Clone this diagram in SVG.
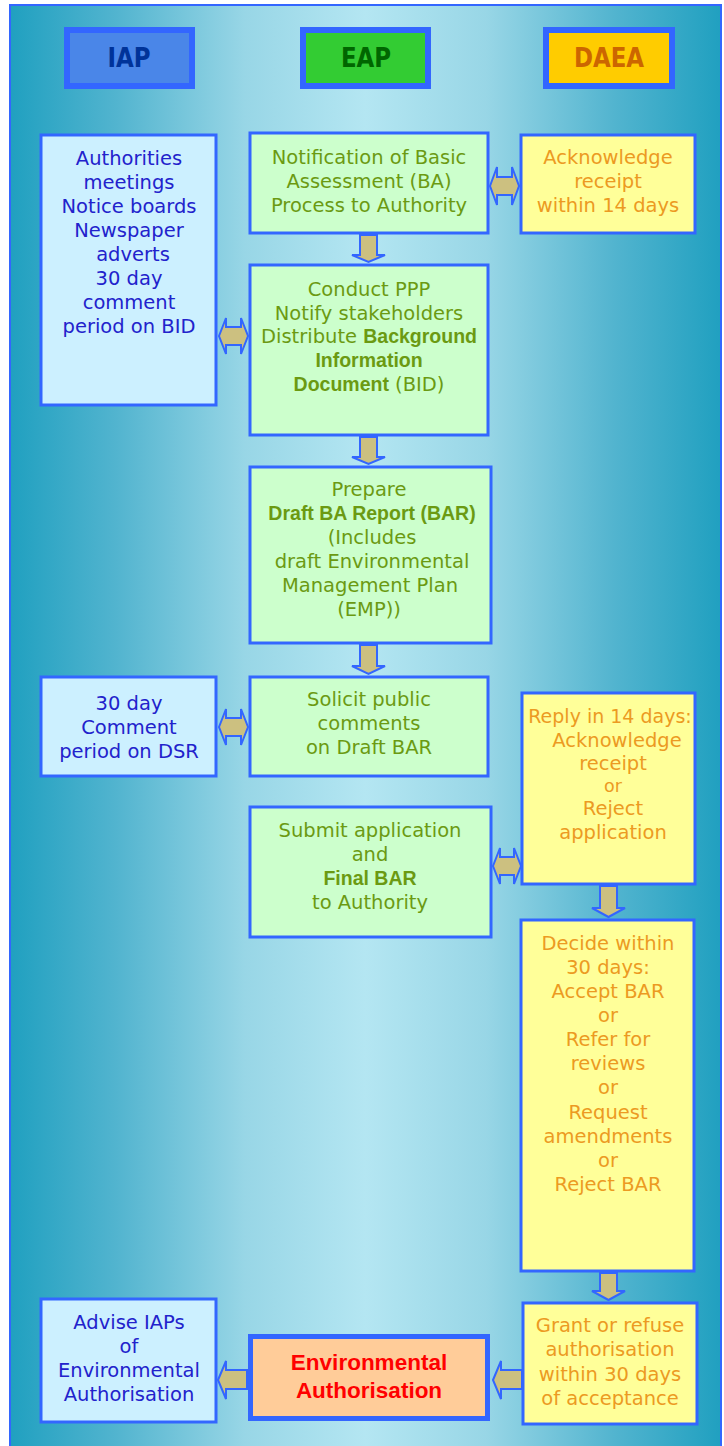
<svg xmlns="http://www.w3.org/2000/svg" width="724" height="1446" viewBox="0 0 724 1446">
<defs>
<linearGradient id="bg" x1="0" y1="0" x2="1" y2="0">
<stop offset="0" stop-color="#20a0c0"/>
<stop offset="0.15" stop-color="#52b4cf"/>
<stop offset="0.33" stop-color="#98d6e6"/>
<stop offset="0.5" stop-color="#b4e6f2"/>
<stop offset="0.67" stop-color="#98d6e6"/>
<stop offset="0.85" stop-color="#52b4cf"/>
<stop offset="1" stop-color="#20a0c0"/>
</linearGradient>
<style>
.box{stroke:#3366ff;stroke-width:3}
.iap{fill:#ccf0ff}
.eap{fill:#ccffcc}
.daea{fill:#ffff99}
.hdr{stroke:#3366ff;stroke-width:6}
.ht{font-family:"DejaVu Sans","Liberation Sans",sans-serif;font-weight:bold;font-size:27px;text-anchor:middle}
.t{font-family:"DejaVu Sans","Liberation Sans",sans-serif;font-size:19.5px;text-anchor:middle}
.ti{fill:#2222cc}
.te{fill:#6b9a12}
.td{fill:#ec9a22}
.b{font-weight:bold;font-family:"Liberation Sans",Arial,sans-serif}
.arr{fill:#ccc080;stroke:#3366ff;stroke-width:2}
</style>
</defs>
<rect x="10" y="5" width="711" height="1445" fill="url(#bg)" stroke="#3366ff" stroke-width="2"/>

<g id="hdr-iap"><rect class="hdr" x="67" y="30" width="125" height="56" fill="#4a86e8"/><text class="ht" transform="translate(129,67) scale(0.85,1)" fill="#003399">IAP</text></g>
<g id="hdr-eap"><rect class="hdr" x="303" y="30" width="125" height="56" fill="#33cc33"/><text class="ht" transform="translate(366,67) scale(0.85,1)" fill="#006600">EAP</text></g>
<g id="hdr-daea"><rect class="hdr" x="546" y="30" width="126" height="56" fill="#ffcc00"/><text class="ht" transform="translate(609,67) scale(0.85,1)" fill="#cc6600">DAEA</text></g>

<g id="connectors">
<path class="arr" d="M360,235 H377 V255 H385 L368.5,262 L352,255 H360 Z"/>
<path class="arr" d="M360,437 H377 V457 H385 L368.5,464 L352,457 H360 Z"/>
<path class="arr" d="M360,645 H377 V666 H385 L368.5,674 L352,666 H360 Z"/>
<path class="arr" d="M600,886 H617 V908 H625 L608.5,917 L592,908 H600 Z"/>
<path class="arr" d="M600,1273 H617 V1291 H625 L608.5,1300 L592,1291 H600 Z"/>
<path class="arr" d="M490,186 L497,167 V177 H512 V167 L519,186 L512,205 V195 H497 V205 Z"/>
<path class="arr" d="M219,336 L226,318 V327 H241 V318 L248,336 L241,354 V345 H226 V354 Z"/>
<path class="arr" d="M219,727 L226,709 V718 H241 V709 L248,727 L241,745 V736 H226 V745 Z"/>
<path class="arr" d="M493,866 L500,848 V857 H514 V848 L521,866 L514,884 V875 H500 V884 Z"/>
<path class="arr" d="M493,1380 L501,1361 V1370 H522 V1389 H501 V1399 Z"/>
<path class="arr" d="M218,1380 L226,1361 V1370 H247 V1389 H226 V1399 Z"/>
</g>

<g id="iap1"><rect class="box iap" x="41" y="135" width="175" height="270"/>
<text class="t ti"><tspan x="129" y="165">Authorities</tspan><tspan x="129" y="189">meetings</tspan><tspan x="129" y="213">Notice boards</tspan><tspan x="129" y="237">Newspaper</tspan><tspan x="133" y="261">adverts</tspan><tspan x="129" y="285">30 day</tspan><tspan x="129" y="309">comment</tspan><tspan x="129" y="333">period on BID</tspan></text></g>

<g id="eap1"><rect class="box eap" x="250" y="133" width="238" height="100"/>
<text class="t te"><tspan x="369" y="164">Notification of Basic</tspan><tspan x="369" y="188">Assessment (BA)</tspan><tspan x="369" y="212">Process to Authority</tspan></text></g>

<g id="daea1"><rect class="box daea" x="521" y="135" width="174" height="98"/>
<text class="t td"><tspan x="608" y="164">Acknowledge</tspan><tspan x="608" y="188">receipt</tspan><tspan x="608" y="212">within 14 days</tspan></text></g>

<g id="eap2"><rect class="box eap" x="250" y="265" width="238" height="170"/>
<text class="t te"><tspan x="369" y="296">Conduct PPP</tspan><tspan x="369" y="320">Notify stakeholders</tspan><tspan x="369" y="343">Distribute <tspan class="b">Background</tspan></tspan><tspan x="369" y="367" class="b">Information</tspan><tspan x="369" y="391"><tspan class="b">Document</tspan> (BID)</tspan></text></g>

<g id="eap3"><rect class="box eap" x="250" y="467" width="241" height="176"/>
<text class="t te"><tspan x="369" y="496">Prepare</tspan><tspan x="372" y="520" class="b">Draft BA Report (BAR)</tspan><tspan x="372" y="544">(Includes</tspan><tspan x="372" y="568">draft Environmental</tspan><tspan x="370" y="592">Management Plan</tspan><tspan x="369" y="616">(EMP))</tspan></text></g>

<g id="iap2"><rect class="box iap" x="41" y="677" width="175" height="99"/>
<text class="t ti"><tspan x="129" y="710">30 day</tspan><tspan x="129" y="734">Comment</tspan><tspan x="129" y="758">period on DSR</tspan></text></g>

<g id="eap4"><rect class="box eap" x="250" y="677" width="238" height="99"/>
<text class="t te"><tspan x="369" y="706">Solicit public</tspan><tspan x="369" y="730">comments</tspan><tspan x="369" y="754">on Draft BAR</tspan></text></g>

<g id="daea2"><rect class="box daea" x="522" y="693" width="173" height="191"/>
<text class="t td"><tspan x="610" y="723" style="font-size:19px">Reply in 14 days:</tspan><tspan x="617" y="747">Acknowledge</tspan><tspan x="613" y="770">receipt</tspan><tspan x="613" y="792" style="font-size:17.5px">or</tspan><tspan x="613" y="815">Reject</tspan><tspan x="613" y="839">application</tspan></text></g>

<g id="eap5"><rect class="box eap" x="250" y="807" width="241" height="130"/>
<text class="t te"><tspan x="370" y="837">Submit application</tspan><tspan x="370" y="861">and</tspan><tspan x="370" y="885" class="b">Final BAR</tspan><tspan x="370" y="909">to Authority</tspan></text></g>

<g id="daea3"><rect class="box daea" x="521" y="920" width="173" height="351"/>
<text class="t td"><tspan x="608" y="950">Decide within</tspan><tspan x="608" y="974">30 days:</tspan><tspan x="608" y="998">Accept BAR</tspan><tspan x="608" y="1022">or</tspan><tspan x="608" y="1046">Refer for</tspan><tspan x="608" y="1070">reviews</tspan><tspan x="608" y="1094">or</tspan><tspan x="608" y="1119">Request</tspan><tspan x="608" y="1143">amendments</tspan><tspan x="608" y="1167">or</tspan><tspan x="608" y="1191">Reject BAR</tspan></text></g>

<g id="daea4"><rect class="box daea" x="523" y="1303" width="174" height="121"/>
<text class="t td"><tspan x="610" y="1332">Grant or refuse</tspan><tspan x="610" y="1356">authorisation</tspan><tspan x="610" y="1381">within 30 days</tspan><tspan x="610" y="1405">of acceptance</tspan></text></g>

<g id="iap3"><rect class="box iap" x="41" y="1299" width="175" height="123"/>
<text class="t ti"><tspan x="129" y="1329">Advise IAPs</tspan><tspan x="129" y="1353">of</tspan><tspan x="129" y="1377">Environmental</tspan><tspan x="129" y="1401">Authorisation</tspan></text></g>

<g id="final"><rect x="250.5" y="1336.5" width="237" height="82" fill="#ffcc99" stroke="#3366ff" stroke-width="5"/>
<text class="t b" style="font-size:22.5px" fill="#ff0000"><tspan x="369" y="1370">Environmental</tspan><tspan x="369" y="1398">Authorisation</tspan></text></g>
</svg>
